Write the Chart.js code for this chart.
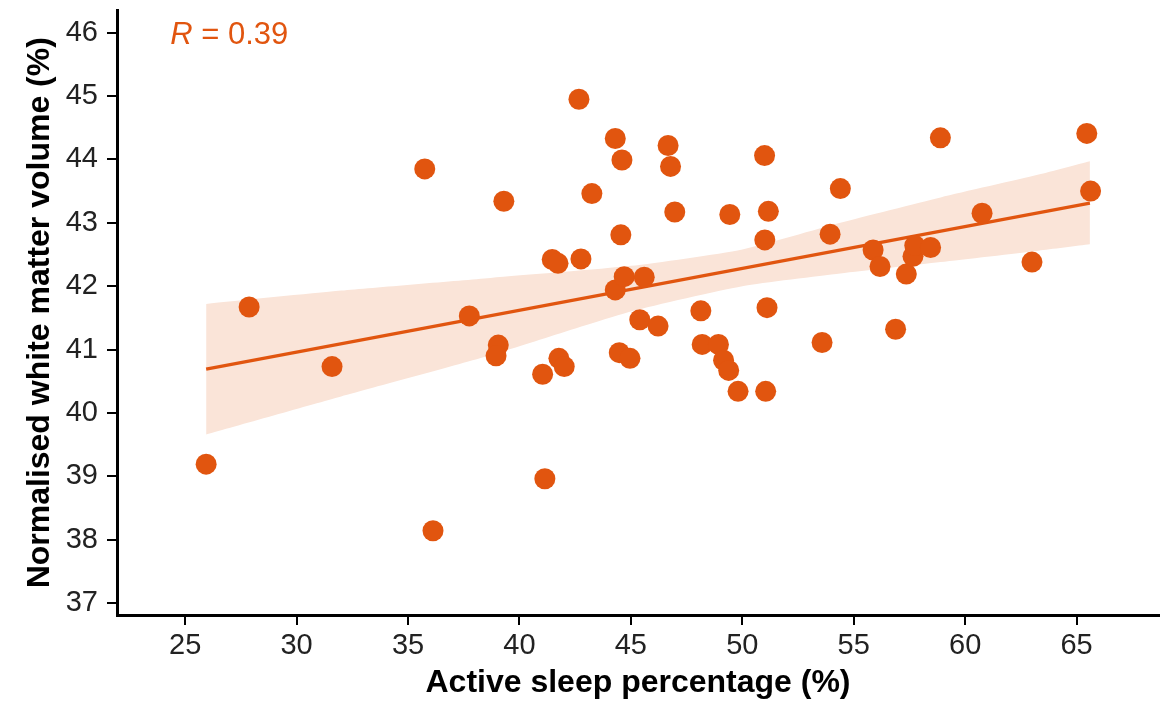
<!DOCTYPE html>
<html>
<head>
<meta charset="utf-8">
<script src="https://cdn.jsdelivr.net/npm/chart.js@4.4.0/dist/chart.umd.min.js"></script>
<style>
  html, body { margin: 0; padding: 0; background: #fff; }
  #wrap { width: 1171px; height: 701px; }
</style>
</head>
<body>
<div id="wrap"><canvas id="wmChart" width="1171" height="701"></canvas></div>
<script>
// active sleep % (x) vs normalised white matter volume % (y)
const sleepPct = [25.94, 27.87, 31.59, 35.75, 36.12, 37.75, 39.05, 38.95, 39.30, 41.04,
                  41.14, 41.47, 41.73, 41.77, 42.01, 42.67, 42.76, 43.25, 44.30, 44.30,
                  44.48, 44.55, 44.60, 44.70, 44.96, 45.40, 45.60, 46.22, 46.67, 46.78,
                  46.97, 48.14, 48.20, 48.93, 49.16, 49.39, 49.44, 49.81, 51.00, 51.01,
                  51.05, 51.11, 51.17, 53.58, 53.94, 54.40, 55.87, 56.18, 56.88, 57.36,
                  57.66, 57.74, 58.45, 58.89, 60.76, 63.00, 65.46, 65.63];
const wmVolume = [39.19, 41.67, 40.73, 43.85, 38.14, 41.53, 41.07, 40.90, 43.34, 40.61,
                  38.96, 42.42, 42.36, 40.86, 40.73, 44.95, 42.43, 43.46, 44.33, 41.94,
                  40.95, 42.81, 43.99, 42.15, 40.86, 41.47, 42.14, 41.37, 44.22, 43.89,
                  43.17, 41.61, 41.08, 41.08, 40.83, 40.67, 43.13, 40.34, 44.06, 42.73,
                  40.34, 41.66, 43.18, 41.11, 42.82, 43.54, 42.57, 42.31, 41.32, 42.19,
                  42.47, 42.64, 42.61, 44.34, 43.15, 42.38, 44.41, 43.50];

// fitted line and its confidence band
const fitX = [25.94, 65.6];
const fitY = [40.69, 43.31];
const ciX     = [25.94, 32.0, 38.7, 45.0, 50.0, 54.4, 58.9, 63.3, 65.6];
const ciUpper = [41.72, 41.93, 42.13, 42.32, 42.58, 43.00, 43.40, 43.76, 43.97];
const ciLower = [39.66, 40.26, 40.91, 41.60, 42.00, 42.20, 42.38, 42.56, 42.66];

const xTicks = [25, 30, 35, 40, 45, 50, 55, 60, 65];
const yTicks = [37, 38, 39, 40, 41, 42, 43, 44, 45, 46];

const orange = '#E1550F';
const bandFill = '#FAE4D8';
const rAt = [24.33, 45.96];

const pts = (xs, ys) => xs.map((v, i) => ({x: v, y: ys[i]}));

const rNote = {
  id: 'rNote',
  afterDatasetsDraw(chart) {
    const ctx = chart.ctx;
    const px = chart.scales.x.getPixelForValue(rAt[0]);
    const py = chart.scales.y.getPixelForValue(rAt[1]);
    ctx.save();
    ctx.fillStyle = orange;
    ctx.textBaseline = 'middle';
    ctx.font = 'italic 31px "Liberation Sans"';
    ctx.fillText('R', px, py);
    const w = ctx.measureText('R').width;
    ctx.font = '31px "Liberation Sans"';
    ctx.fillText(' = 0.39', px + w, py);
    ctx.restore();
  }
};

const axisGrid = {
  display: true,
  drawOnChartArea: false,
  drawTicks: true,
  tickLength: 10,
  color: '#000',
  lineWidth: 2
};

let ctx = document.getElementById('wmChart').getContext('2d');
let wmChart = new Chart(ctx, {
  type: 'scatter',
  data: {
    datasets: [{
      data: pts(sleepPct, wmVolume),
      backgroundColor: orange,
      borderWidth: 0,
      pointRadius: 10.5,
      pointHoverRadius: 10.5
    }, {
      type: 'line',
      data: pts(fitX, fitY),
      borderColor: orange,
      borderWidth: 3.2,
      pointRadius: 0,
      fill: false
    }, {
      type: 'line',
      data: pts(ciX, ciUpper),
      borderColor: 'rgba(0,0,0,0)',
      backgroundColor: bandFill,
      pointRadius: 0,
      tension: 0.2,
      fill: '+1'
    }, {
      type: 'line',
      data: pts(ciX, ciLower),
      borderColor: 'rgba(0,0,0,0)',
      pointRadius: 0,
      tension: 0.2,
      fill: false
    }]
  },
  options: {
    responsive: false,
    devicePixelRatio: 1,
    animation: false,
    events: [],
    layout: { padding: 0 },
    plugins: {
      legend: { display: false },
      tooltip: { enabled: false }
    },
    scales: {
      x: {
        type: 'linear',
        min: 21.94,
        max: 68.7,
        afterBuildTicks: (s) => { s.ticks = xTicks.map(v => ({value: v})); },
        afterFit: (s) => {
          s.height = 86;
          s.paddingLeft = 0;
          s.paddingRight = 12;
        },
        border: { display: true, color: '#000', width: 3 },
        grid: axisGrid,
        ticks: {
          padding: 4,
          color: '#222',
          font: { family: 'Liberation Sans', size: 29 }
        },
        title: {
          display: true,
          text: 'Active sleep percentage (%)',
          color: '#000',
          padding: { top: 0, bottom: 0 },
          font: { family: 'Liberation Sans', size: 32, weight: 'bold', lineHeight: 1.1 }
        }
      },
      y: {
        type: 'linear',
        min: 36.81,
        max: 46.35,
        afterBuildTicks: (s) => { s.ticks = yTicks.map(v => ({value: v})); },
        afterFit: (s) => {
          s.width = 117;
          s.paddingTop = 5;
          s.paddingBottom = 0;
        },
        border: { display: true, color: '#000', width: 3 },
        grid: axisGrid,
        ticks: {
          padding: 9,
          color: '#222',
          font: { family: 'Liberation Sans', size: 29 }
        },
        title: {
          display: true,
          text: 'Normalised white matter volume (%)',
          color: '#000',
          padding: { top: 21, bottom: 0 },
          font: { family: 'Liberation Sans', size: 32, weight: 'bold', lineHeight: 1.2 }
        }
      }
    }
  },
  plugins: [rNote]
});
</script>
</body>
</html>
